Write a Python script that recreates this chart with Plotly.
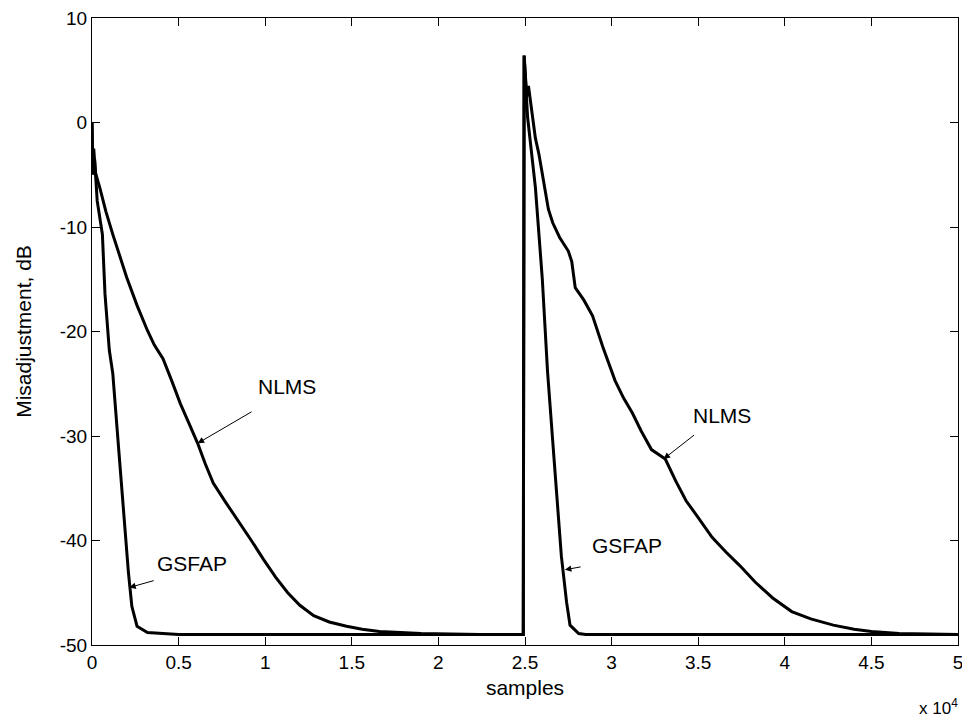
import plotly.graph_objects as go

# x in units of 1e4 samples, y in dB
nlms_x = [0, 0.004, 0.01, 0.02, 0.046, 0.08, 0.12, 0.16, 0.2, 0.26, 0.32, 0.36, 0.41, 0.46, 0.51, 0.56, 0.61,
          0.655, 0.70, 0.77, 0.84, 0.92, 0.99, 1.06, 1.13, 1.2, 1.28, 1.37, 1.47, 1.56, 1.66, 1.9, 2.24, 2.49,
          2.495, 2.51, 2.52, 2.54, 2.56, 2.58, 2.61, 2.635, 2.66, 2.70, 2.75, 2.77, 2.79, 2.84, 2.89, 2.95,
          3.02, 3.07, 3.12, 3.17, 3.23, 3.31, 3.37, 3.43, 3.5, 3.58, 3.66, 3.74, 3.83, 3.93, 4.04, 4.15,
          4.28, 4.4, 4.5, 4.66, 5.0]
nlms_y = [0, -4, -2.5, -4.8, -6.3, -8.5, -10.7, -12.7, -14.8, -17.5, -19.9, -21.3, -22.6, -24.7, -26.9, -28.8, -30.7,
          -32.7, -34.5, -36.3, -38, -40, -41.8, -43.5, -45, -46.2, -47.2, -47.8, -48.2, -48.5, -48.7, -48.9, -49, -49,
          6.4, 2.5, 3.5, 1.0, -1.5, -3.0, -6.0, -8.3, -9.6, -11.0, -12.3, -13.3, -15.8, -17.0, -18.5, -21.5,
          -24.7, -26.4, -27.8, -29.5, -31.3, -32.2, -34.3, -36.2, -37.8, -39.7, -41.1, -42.4, -44.0, -45.5, -46.8, -47.5,
          -48.1, -48.5, -48.7, -48.9, -49]

gsfap_x = [0, 0.005, 0.015, 0.03, 0.06, 0.075, 0.10, 0.12, 0.15, 0.18, 0.21, 0.23, 0.26, 0.32, 0.5, 2.49,
           2.495, 2.515, 2.53, 2.56, 2.60, 2.63, 2.67, 2.71, 2.74, 2.76, 2.81, 2.85, 5.0]
gsfap_y = [0, -5, -3.5, -7.5, -10.7, -16.4, -21.8, -24, -30.4, -36.8, -43, -46.3, -48.2, -48.8, -49, -49,
           6.4, 0.5, -1.7, -6.2, -15, -23.8, -32.7, -41.5, -45.9, -48.1, -48.9, -49, -49]

x_ticks = [0, 0.5, 1, 1.5, 2, 2.5, 3, 3.5, 4, 4.5, 5]
x_tick_labels = ["0", "0.5", "1", "1.5", "2", "2.5", "3", "3.5", "4", "4.5", "5"]
y_ticks = [-50, -40, -30, -20, -10, 0, 10]
y_tick_labels = ["-50", "-40", "-30", "-20", "-10", "0", "10"]

# annotations: label, text centre x/y, arrow head x/y, arrow tail x/y
labels = ["NLMS", "GSFAP", "NLMS", "GSFAP"]
label_x = [1.125, 0.577, 3.64, 3.09]
label_y = [-25.3, -42.2, -28.0, -40.5]
head_x = [0.61, 0.215, 3.30, 2.73]
head_y = [-30.7, -44.5, -32.2, -42.8]
tail_x = [0.93, 0.365, 3.485, 2.83]
tail_y = [-27.6, -43.8, -29.8, -42.5]

font_family = "Liberation Sans, Arial, sans-serif"
tick_fs = 19
label_fs = 21

fig = go.Figure()
fig.add_trace(go.Scatter(x=nlms_x, y=nlms_y, mode="lines", name="NLMS",
                         line=dict(color="black", width=3)))
fig.add_trace(go.Scatter(x=gsfap_x, y=gsfap_y, mode="lines", name="GSFAP",
                         line=dict(color="black", width=3)))

for i in range(len(labels)):
    fig.add_annotation(x=head_x[i], y=head_y[i], ax=tail_x[i], ay=tail_y[i],
                       xref="x", yref="y", axref="x", ayref="y", text="",
                       showarrow=True, arrowhead=2, arrowsize=1.3, arrowwidth=1,
                       arrowcolor="black")
    fig.add_annotation(x=label_x[i], y=label_y[i], xref="x", yref="y", text=labels[i],
                       showarrow=False, font=dict(family=font_family, size=label_fs, color="black"))

fig.add_annotation(x=1.0, y=0, xref="paper", yref="paper", xanchor="right", yanchor="middle",
                   yshift=-62, xshift=2, text="x 10<sup>4</sup>", showarrow=False,
                   font=dict(family=font_family, size=17, color="black"))

# page has an 8px body margin; figure is sized to fit the 970x726 window
fig.update_layout(
    width=962, height=710,
    margin=dict(l=84, r=12, t=10, b=73, autoexpand=False),
    paper_bgcolor="white", plot_bgcolor="white",
    showlegend=False,
    font=dict(family=font_family, size=tick_fs, color="black"),
)
fig.update_xaxes(range=[0, 5], tickvals=x_ticks, ticktext=x_tick_labels,
                 ticks="inside", ticklen=8, tickcolor="black", showline=True, linecolor="black",
                 linewidth=1, mirror="ticks", showgrid=False, zeroline=False, automargin=False,
                 ticklabeloverflow="allow", tickfont=dict(size=tick_fs),
                 title=dict(text="samples", standoff=8, font=dict(size=label_fs)))
fig.update_yaxes(range=[-50, 10], tickvals=y_ticks, ticktext=y_tick_labels,
                 ticks="inside", ticklen=8, tickcolor="black", showline=True, linecolor="black",
                 linewidth=1, mirror="ticks", showgrid=False, zeroline=False, automargin=False,
                 ticklabeloverflow="allow", tickfont=dict(size=tick_fs),
                 title=dict(text="Misadjustment, dB", standoff=22, font=dict(size=label_fs)))

fig.write_html("out.html")
